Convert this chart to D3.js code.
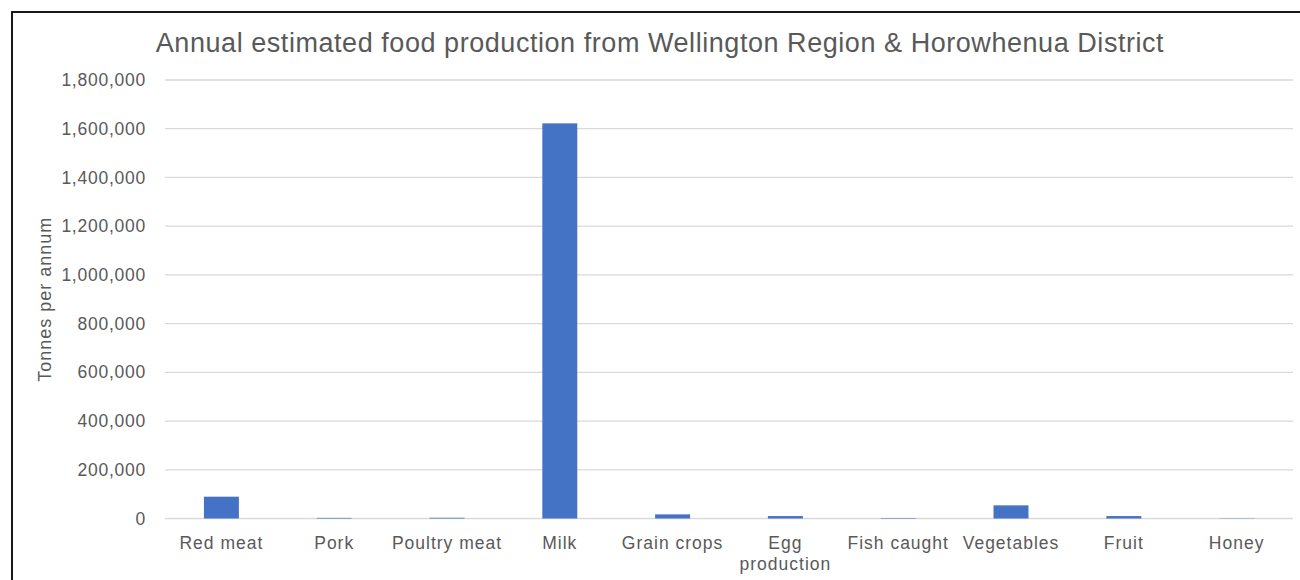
<!DOCTYPE html>
<html>
<head>
<meta charset="utf-8">
<script src="https://cdn.jsdelivr.net/npm/d3@7"></script>
<style>
  html, body { margin: 0; padding: 0; background: #fff; }
  svg { display: block; }
  text { font-family: "Liberation Sans", Arial, sans-serif; fill: #595959; }
</style>
</head>
<body>
<svg id="chart" width="1300" height="580"></svg>
<script>
// Food categories and estimated annual production (tonnes)
const categories = ["Red meat", "Pork", "Poultry meat", "Milk", "Grain crops",
                    "Egg production", "Fish caught", "Vegetables", "Fruit", "Honey"];
const tonnes = [89500, 2500, 3000, 1622000, 17000, 10000, 2000, 54000, 10000, 1000];
const yTicks = [0, 200000, 400000, 600000, 800000, 1000000, 1200000, 1400000, 1600000, 1800000];
const chartTitle = "Annual estimated food production from Wellington Region & Horowhenua District";
const yTitle = "Tonnes per annum";

const svg = d3.select("#chart");
const plot = { left: 165, right: 1293, top: 80, bottom: 518.5 };

// Outer chart frame
svg.append("rect")
  .attr("x", 12).attr("y", 12)
  .attr("width", 1400).attr("height", 700)
  .attr("fill", "none").attr("stroke", "#000").attr("stroke-width", 1.8);

const x = d3.scaleBand()
  .domain(categories)
  .range([plot.left, plot.right])
  .paddingInner(0.69).paddingOuter(0.345);

const y = d3.scaleLinear()
  .domain([0, 1800000])
  .range([plot.bottom, plot.top]);

// Horizontal gridlines
svg.append("g").selectAll("line")
  .data(yTicks)
  .join("line")
  .attr("x1", plot.left).attr("x2", plot.right)
  .attr("y1", d => y(d)).attr("y2", d => y(d))
  .attr("stroke", "#d9d9d9").attr("stroke-width", 1.3);

// Y axis tick labels
const fmt = d3.format(",");
svg.append("g").selectAll("text")
  .data(yTicks)
  .join("text")
  .attr("x", 146)
  .attr("y", d => y(d))
  .attr("dy", "0.35em")
  .attr("text-anchor", "end")
  .style("font-size", "17.5px")
  .style("letter-spacing", "0.75px")
  .text(d => fmt(d));

// Bars
svg.append("g").selectAll("rect")
  .data(categories.map((c, i) => ({ c, v: tonnes[i] })))
  .join("rect")
  .attr("x", d => x(d.c))
  .attr("width", x.bandwidth())
  .attr("y", d => y(d.v))
  .attr("height", d => y(0) - y(d.v))
  .attr("fill", "#4472c4");

// Category labels (wrapped where Excel wraps them)
const labelLines = { "Egg production": ["Egg", "production"] };
const xl = svg.append("g").selectAll("text")
  .data(categories)
  .join("text")
  .attr("x", d => x(d) + x.bandwidth() / 2)
  .attr("y", 549)
  .attr("text-anchor", "middle")
  .style("font-size", "17.5px")
  .style("letter-spacing", "1px");
xl.each(function(d) {
  const lines = labelLines[d] || [d];
  d3.select(this).selectAll("tspan")
    .data(lines)
    .join("tspan")
    .attr("x", x(d) + x.bandwidth() / 2)
    .attr("dy", (l, i) => i === 0 ? 0 : 21)
    .text(l => l);
});

// Y axis title
svg.append("text")
  .attr("transform", `translate(51,${(plot.top + plot.bottom) / 2}) rotate(-90)`)
  .attr("text-anchor", "middle")
  .style("font-size", "18px")
  .style("letter-spacing", "1px")
  .text(yTitle);

// Chart title
svg.append("text")
  .attr("x", 660)
  .attr("y", 52)
  .attr("text-anchor", "middle")
  .style("font-size", "27px")
  .style("letter-spacing", "0.55px")
  .text(chartTitle);
</script>
</body>
</html>
